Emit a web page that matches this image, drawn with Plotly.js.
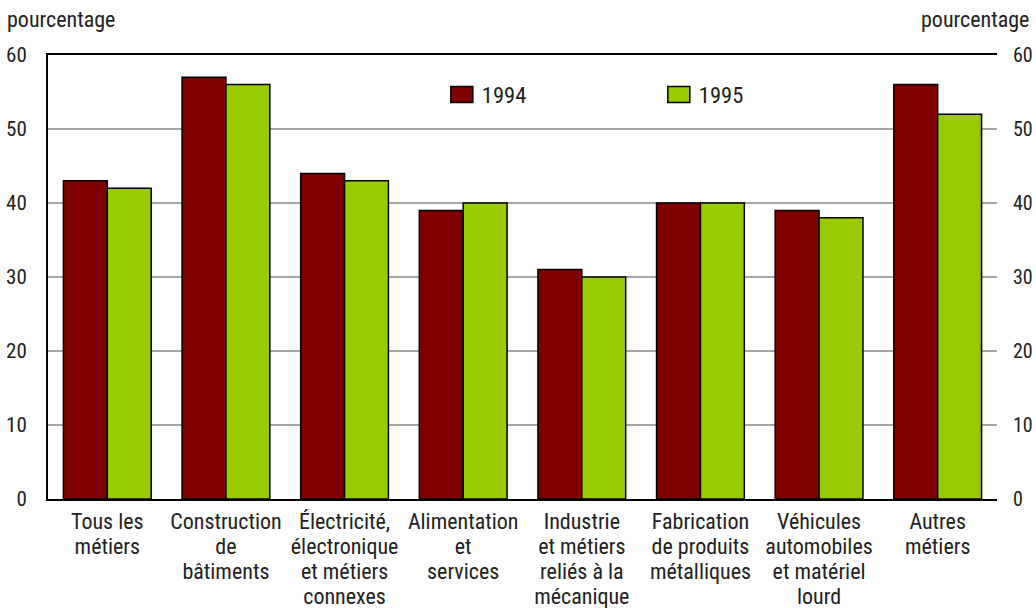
<!DOCTYPE html>
<html><head><meta charset="utf-8">
<script src="https://cdn.plot.ly/plotly-3.0.1.min.js"></script>
<style>html,body{margin:0;padding:0;background:#fff}#chart{width:1036px;height:608px}
#chart text{font-stretch:75% !important;}</style>
</head><body><div id="chart"></div>
<script>
const categories = [
  "Tous les<br>métiers",
  "Construction<br>de<br>bâtiments",
  "Électricité,<br>électronique<br>et métiers<br>connexes",
  "Alimentation<br>et<br>services",
  "Industrie<br>et métiers<br>reliés à la<br>mécanique",
  "Fabrication<br>de produits<br>métalliques",
  "Véhicules<br>automobiles<br>et matériel<br>lourd",
  "Autres<br>métiers"
];
const values1994 = [43, 57, 44, 39, 31, 40, 39, 56];
const values1995 = [42, 56, 43, 40, 30, 40, 38, 52];
const seriesNames = ["1994", "1995"];
const yTicks = [0, 10, 20, 30, 40, 50, 60];

const FONT = "'Roboto Condensed', Roboto, sans-serif";
const TXT = "#222222";
const CAT_SIZE = 22;
const LINE_FACTOR = 25 / (1.3 * CAT_SIZE);

const traces = [
  {type:"bar", name:seriesNames[0], x:categories, y:values1994,
   marker:{color:"#800000", line:{color:"#000", width:1.5}}},
  {type:"bar", name:seriesNames[1], x:categories, y:values1995,
   marker:{color:"#99cc00", line:{color:"#000", width:1.5}}},
  {type:"scatter", mode:"markers", x:[categories[0]], y:[yTicks[0]], yaxis:"y2",
   marker:{opacity:0}, showlegend:false, hoverinfo:"skip"}
];

const layout = {
  width:1036, height:608,
  margin:{l:48, r:39, t:55, b:109},
  paper_bgcolor:"#fff", plot_bgcolor:"#fff",
  font:{family:FONT, size:21, color:TXT},
  barmode:"group", bargap:0.26, bargroupgap:0,
  showlegend:true,
  legend:{orientation:"h", x:0.415, xanchor:"left", y:0.91, yanchor:"middle",
          entrywidth:172, entrywidthmode:"pixels", bgcolor:"rgba(0,0,0,0)",
          font:{family:FONT, size:22.5, color:TXT}},
  xaxis:{showline:true, linecolor:"#000", linewidth:2, mirror:true,
         ticks:"", ticklabelstandoff:2, tickfont:{family:FONT, size:CAT_SIZE, color:TXT}, fixedrange:true},
  yaxis:{range:[0,60], tickvals:yTicks, showgrid:true, gridcolor:"#a6a6a6", gridwidth:1.5,
         showline:true, linecolor:"#000", linewidth:2, zeroline:false,
         ticks:"outside", ticklen:15, tickcolor:"rgba(0,0,0,0)",
         tickfont:{family:FONT, size:21, color:TXT}},
  yaxis2:{range:[0,60], tickvals:yTicks, overlaying:"y", side:"right", showgrid:false,
          showline:false, zeroline:false, ticks:"outside", ticklen:11, tickcolor:"rgba(0,0,0,0)",
          tickfont:{family:FONT, size:20, color:TXT}},
  annotations:[
    {text:"pourcentage", xref:"paper", yref:"paper", x:-0.045, y:1.079, xanchor:"left", yanchor:"middle",
     showarrow:false, font:{family:FONT, size:22, color:TXT}},
    {text:"pourcentage", xref:"paper", yref:"paper", x:1.036, y:1.079, xanchor:"right", yanchor:"middle",
     showarrow:false, font:{family:FONT, size:22, color:TXT}}
  ]
};

Plotly.newPlot("chart", traces, layout, {displayModeBar:false, staticPlot:true}).then(gd => {
  gd.querySelectorAll('.xtick text tspan.line').forEach(ts => {
    const dy = ts.getAttribute('dy');
    if (dy && /em$/.test(dy)) ts.setAttribute('dy', (parseFloat(dy) * LINE_FACTOR) + 'em');
  });
  gd.querySelectorAll('.legendpoints path').forEach(p => p.setAttribute('d', 'M11,8H-11V-8H11Z'));
});
</script>
</body></html>
